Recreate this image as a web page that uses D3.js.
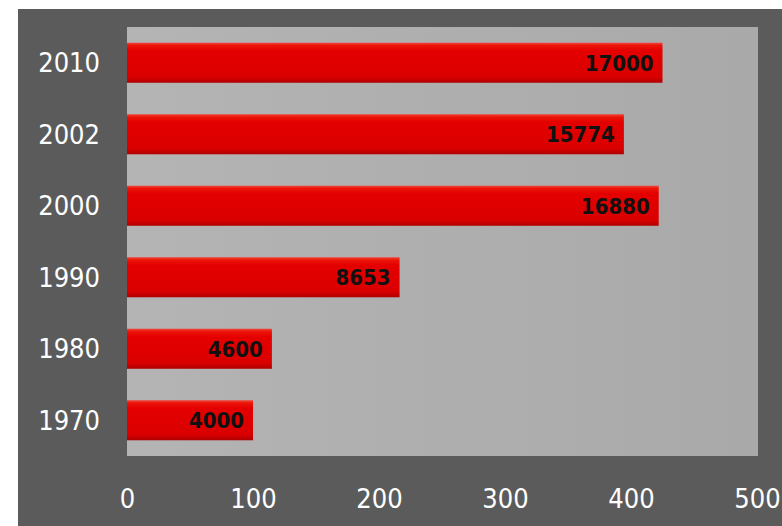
<!DOCTYPE html>
<html>
<head>
<meta charset="utf-8">
<script src="https://cdn.jsdelivr.net/npm/d3@7/dist/d3.min.js"></script>
<style>
  html, body { margin: 0; padding: 0; background: #ffffff; }
  svg { display: block; }
</style>
</head>
<body>
<svg id="chart" width="782" height="526"></svg>
<script>
// Yearly values, top row first
const years = ["2010", "2002", "2000", "1990", "1980", "1970"];
const values = [17000, 15774, 16880, 8653, 4600, 4000];
// Axis tick labels (axis reads the value in units of 40)
const tickLabels = [0, 100, 200, 300, 400, 500];
const axisUnit = 40;

const svg = d3.select("#chart");
const W = 782, H = 526;
const font = "'DejaVu Sans Condensed', 'DejaVu Sans', sans-serif";

const plot = { left: 127, right: 758, top: 27, bottom: 456 };

const defs = svg.append("defs");

// bar shading: light top edge, flat red body, darker bottom rim
const barGrad = defs.append("linearGradient")
  .attr("id", "barGrad").attr("x1", 0).attr("y1", 0).attr("x2", 0).attr("y2", 1);
barGrad.append("stop").attr("offset", "0%").attr("stop-color", "#f0463c");
barGrad.append("stop").attr("offset", "7%").attr("stop-color", "#ec1408");
barGrad.append("stop").attr("offset", "20%").attr("stop-color", "#e40000");
barGrad.append("stop").attr("offset", "85%").attr("stop-color", "#da0000");
barGrad.append("stop").attr("offset", "100%").attr("stop-color", "#b00000");

const plotGrad = defs.append("linearGradient")
  .attr("id", "plotGrad").attr("x1", 0).attr("y1", 0).attr("x2", 1).attr("y2", 0);
plotGrad.append("stop").attr("offset", "0%").attr("stop-color", "#b4b4b4");
plotGrad.append("stop").attr("offset", "100%").attr("stop-color", "#a9a9a9");

// outer dark panel
svg.append("rect")
  .attr("x", 18).attr("y", 9).attr("width", W - 18).attr("height", H - 9)
  .attr("fill", "#5b5b5b");

// plot area
svg.append("rect")
  .attr("x", plot.left).attr("y", plot.top)
  .attr("width", plot.right - plot.left).attr("height", plot.bottom - plot.top)
  .attr("fill", "url(#plotGrad)");

const x = d3.scaleLinear()
  .domain([0, d3.max(tickLabels) * axisUnit])
  .range([plot.left, 757]);

const y = d3.scaleBand()
  .domain(years)
  .range([plot.top, plot.bottom])
  .paddingInner(0.44)
  .paddingOuter(0.22);

// bars
const bars = svg.append("g").selectAll("g.bar")
  .data(years.map((yr, i) => ({ year: yr, value: values[i] })))
  .join("g").attr("class", "bar");

bars.append("rect")
  .attr("x", x(0))
  .attr("y", d => y(d.year))
  .attr("width", d => x(d.value) - x(0))
  .attr("height", y.bandwidth())
  .attr("fill", "url(#barGrad)");

bars.append("text")
  .attr("x", d => x(d.value) - 9)
  .attr("y", d => y(d.year) + y.bandwidth() / 2 + 8)
  .attr("text-anchor", "end")
  .attr("font-family", font)
  .attr("font-weight", "bold")
  .attr("font-size", 22)
  .attr("fill", "#111111")
  .text(d => d.value);

// category axis
const yAxis = svg.append("g")
  .attr("transform", `translate(${plot.left},0)`)
  .call(d3.axisLeft(y).tickSize(0).tickPadding(27));
yAxis.select(".domain").remove();
yAxis.selectAll("text")
  .attr("font-family", font)
  .attr("font-size", 27)
  .attr("fill", "#ffffff")
  .attr("dy", "0.36em");

// value axis
const xAxis = svg.append("g")
  .attr("transform", `translate(0,${plot.bottom})`)
  .call(d3.axisBottom(x)
    .tickValues(tickLabels.map(t => t * axisUnit))
    .tickFormat(v => v / axisUnit)
    .tickSize(0).tickPadding(52));
xAxis.select(".domain").remove();
xAxis.selectAll("text")
  .attr("font-family", font)
  .attr("font-size", 27)
  .attr("fill", "#ffffff")
  .attr("dy", "0");
</script>
</body>
</html>
